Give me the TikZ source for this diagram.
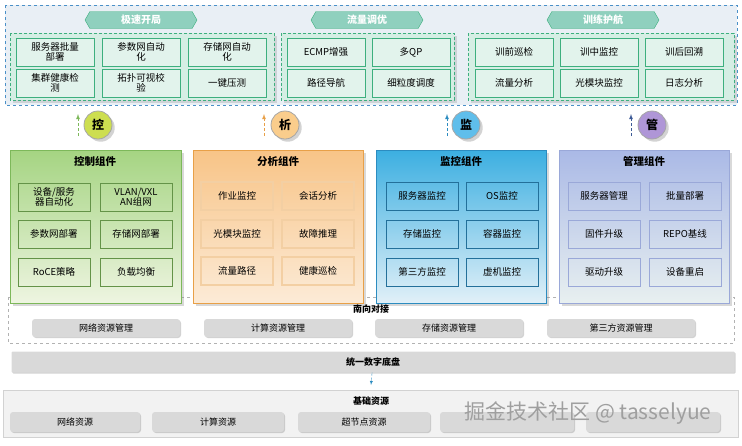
\documentclass[tikz,border=0pt]{standalone}
\usepackage{fontspec}
\setmainfont{Noto Sans CJK SC}
\usetikzlibrary{shapes.symbols}
\usetikzlibrary{shadows}
\definecolor{framebg}{HTML}{E9EFF5}
\definecolor{frameline}{HTML}{4A90C8}
\definecolor{grpbg}{HTML}{D5EEE4}
\definecolor{grpline}{HTML}{3DAF7E}
\definecolor{hexfill}{HTML}{8FD0BE}
\definecolor{ctlline}{HTML}{7DB85A}
\definecolor{analine}{HTML}{E8A048}
\definecolor{monline}{HTML}{2C8CC0}
\definecolor{mgtline}{HTML}{9AA8D8}
\tikzstyle{none}=[inner sep=0pt]
\tikzstyle{frame}=[draw=frameline,dashed,fill=framebg]
\tikzstyle{group}=[draw=grpline,densely dashed,fill=grpbg,drop shadow={opacity=0.25}]
\tikzstyle{hextitle}=[signal,signal to=west and east,signal pointer angle=120,draw=grpline,fill=hexfill,text=white,font=\bfseries,minimum width=112pt,minimum height=17pt,inner sep=1pt]
\tikzstyle{feat}=[draw=grpline,thick,fill=grpbg!70!white,minimum width=78pt,minimum height=28pt,align=center,inner sep=1pt,font=\fontsize{9.5}{10.5}\selectfont]
\tikzstyle{badge}=[circle,draw=gray!70,thick,minimum size=28pt,inner sep=0pt,font=\bfseries\large,drop shadow={opacity=0.35}]
\tikzstyle{up}=[-latex,densely dashed,thick]
\tikzstyle{comp}=[draw,drop shadow={opacity=0.3}]
\tikzstyle{item}=[draw,minimum width=72pt,minimum height=28pt,align=center,inner sep=1pt,font=\fontsize{9.5}{10.5}\selectfont]
\tikzstyle{gbar}=[rounded corners=3pt,fill=gray!30,minimum height=18pt,font=\fontsize{9}{10}\selectfont,drop shadow={opacity=0.35,shadow xshift=1pt,shadow yshift=-1pt}]
\tikzstyle{ctitle}=[none,font=\bfseries\fontsize{10.5}{12}\selectfont]

\begin{document}
\begin{tikzpicture}[x=1pt,y=-1pt]
	\useasboundingbox (0,0) rectangle (742,445);
	% top scenarios
	\draw [style=frame] (5,5) rectangle (737,105);
	\draw [style=group] (10,33) rectangle (274,100);
	\draw [style=group] (281,33) rectangle (454,100);
	\draw [style=group] (468,33) rectangle (734,100);
	\node [style=hextitle] (t0) at (141,20) {极速开局};
	\node [style=hextitle] (t1) at (367,20) {流量调优};
	\node [style=hextitle] (t2) at (603,20) {训练护航};
	\node [style=feat] (a0) at (55,52) {服务器批量\\部署};
	\node [style=feat] (a1) at (141,52) {参数网自动\\化};
	\node [style=feat] (a2) at (227,52) {存储网自动\\化};
	\node [style=feat] (a3) at (55,83) {集群健康检\\测};
	\node [style=feat] (a4) at (141,83) {拓扑可视校\\验};
	\node [style=feat] (a5) at (227,83) {一键压测};
	\node [style=feat] (b0) at (326,52) {ECMP增强};
	\node [style=feat] (b1) at (411,52) {多QP};
	\node [style=feat] (b2) at (326,83) {路径导航};
	\node [style=feat] (b3) at (411,83) {细粒度调度};
	\node [style=feat] (c0) at (514,52) {训前巡检};
	\node [style=feat] (c1) at (599,52) {训中监控};
	\node [style=feat] (c2) at (684,52) {训后回溯};
	\node [style=feat] (c3) at (514,83) {流量分析};
	\node [style=feat] (c4) at (599,83) {光模块监控};
	\node [style=feat] (c5) at (684,83) {日志分析};
	% badges
	\node [style=badge,fill={rgb,255:red,205;green,222;blue,80}] (k0) at (98,125) {控};
	\node [style=badge,fill={rgb,255:red,250;green,205;blue,140}] (k1) at (285,125) {析};
	\node [style=badge,fill={rgb,255:red,95;green,190;blue,235}] (k2) at (466,125) {监};
	\node [style=badge,fill={rgb,255:red,175;green,150;blue,215}] (k3) at (652,125) {管};
	\coordinate (p0) at (78,136); \coordinate (q0) at (78,114);
	\coordinate (p1) at (264,136); \coordinate (q1) at (264,114);
	\coordinate (p2) at (447,136); \coordinate (q2) at (447,114);
	\coordinate (p3) at (631,136); \coordinate (q3) at (631,114);
	\draw [style=up,draw=ctlline] (p0) to (q0);
	\draw [style=up,draw=analine] (p1) to (q1);
	\draw [style=up,draw=monline] (p2) to (q2);
	\draw [style=up,draw={rgb,255:red,60;green,90;blue,150}] (p3) to (q3);
	% southbound frame
	\draw [draw=gray!60,dashed,fill=white] (8,297) rectangle (734,343);
	% components
	\draw [style=comp,draw=ctlline,top color={rgb,255:red,165;green,212;blue,130},bottom color={rgb,255:red,238;green,245;blue,225}] (10,150) rectangle (181,303);
	\draw [style=comp,draw=analine,top color={rgb,255:red,248;green,196;blue,135},bottom color={rgb,255:red,252;green,235;blue,215}] (193,150) rectangle (363,303);
	\draw [style=comp,draw=monline,top color={rgb,255:red,60;green,175;blue,225},bottom color={rgb,255:red,225;green,240;blue,248}] (376,150) rectangle (546,303);
	\draw [style=comp,draw=mgtline,top color={rgb,255:red,170;green,185;blue,230},bottom color={rgb,255:red,232;green,240;blue,240}] (559,150) rectangle (729,303);
	\node [style=ctitle] (h0) at (95,161) {控制组件};
	\node [style=ctitle] (h1) at (278,161) {分析组件};
	\node [style=ctitle] (h2) at (461,161) {监控组件};
	\node [style=ctitle] (h3) at (644,161) {管理组件};
	\node [style=item,draw=ctlline!80!black] (d0) at (54,197) {设备/服务\\器自动化};
	\node [style=item,draw=ctlline!80!black] (d1) at (136,197) {VLAN/VXL\\AN组网};
	\node [style=item,draw=ctlline!80!black] (d2) at (54,234) {参数网部署};
	\node [style=item,draw=ctlline!80!black] (d3) at (136,234) {存储网部署};
	\node [style=item,draw=ctlline!80!black] (d4) at (54,272) {RoCE策略};
	\node [style=item,draw=ctlline!80!black] (d5) at (136,272) {负载均衡};
	\node [style=item,draw=analine!50,very thick] (e0) at (237,196) {作业监控};
	\node [style=item,draw=analine!50,very thick] (e1) at (318,196) {会话分析};
	\node [style=item,draw=analine!50,very thick] (e2) at (237,234) {光模块监控};
	\node [style=item,draw=analine!50,very thick] (e3) at (318,234) {故障推理};
	\node [style=item,draw=analine!50,very thick] (e4) at (237,271) {流量路径};
	\node [style=item,draw=analine!50,very thick] (e5) at (318,271) {健康巡检};
	\node [style=item,draw=monline!80!black] (f0) at (422,196) {服务器监控};
	\node [style=item,draw=monline!80!black] (f1) at (502,196) {OS监控};
	\node [style=item,draw=monline!80!black] (f2) at (422,234) {存储监控};
	\node [style=item,draw=monline!80!black] (f3) at (502,234) {容器监控};
	\node [style=item,draw=monline!80!black] (f4) at (422,272) {第三方监控};
	\node [style=item,draw=monline!80!black] (f5) at (502,272) {虚机监控};
	\node [style=item,draw=mgtline] (g0) at (604,196) {服务器管理};
	\node [style=item,draw=mgtline] (g1) at (685,196) {批量部署};
	\node [style=item,draw=mgtline] (g2) at (604,234) {固件升级};
	\node [style=item,draw=mgtline] (g3) at (685,234) {REPO基线};
	\node [style=item,draw=mgtline] (g4) at (604,272) {驱动升级};
	\node [style=item,draw=mgtline] (g5) at (685,272) {设备重启};
	% southbound
	\node [style=ctitle,font=\bfseries\fontsize{9}{10}\selectfont] (s) at (371,309) {南向对接};
	\node [style=gbar,minimum width=148pt] (s0) at (106,328) {网络资源管理};
	\node [style=gbar,minimum width=148pt] (s1) at (278,328) {计算资源管理};
	\node [style=gbar,minimum width=148pt] (s2) at (449,328) {存储资源管理};
	\node [style=gbar,minimum width=148pt] (s3) at (621,328) {第三方资源管理};
	% base
	\node [style=gbar,rounded corners=1pt,minimum width=723pt,minimum height=21pt,font=\bfseries\fontsize{9}{10}\selectfont] (u) at (373,362) {统一数字底盘};
	\draw [fill=gray!10,draw=gray!35] (3,390) rectangle (738,437);
	\coordinate (v) at (371,385);
	\draw [-latex,densely dashed,draw=monline] (u) to (v);
	\node [style=ctitle,font=\bfseries\fontsize{9}{10}\selectfont] (r) at (371,401) {基础资源};
	\node [style=gbar,minimum width=130pt,minimum height=20pt] (r0) at (75,422) {网络资源};
	\node [style=gbar,minimum width=132pt,minimum height=20pt] (r1) at (218,422) {计算资源};
	\node [style=gbar,minimum width=132pt,minimum height=20pt] (r2) at (364,422) {超节点资源};
	\node [style=gbar,minimum width=134pt,minimum height=20pt] (r3) at (507,422) {};
	\node [style=gbar,minimum width=134pt,minimum height=20pt] (r4) at (653,422) {};
	% watermark
	\node [style=none,text=gray!75,font=\fontsize{21}{22}\selectfont] (w) at (588,413) {掘金技术社区 @ tasselyue};
\end{tikzpicture}
\end{document}
